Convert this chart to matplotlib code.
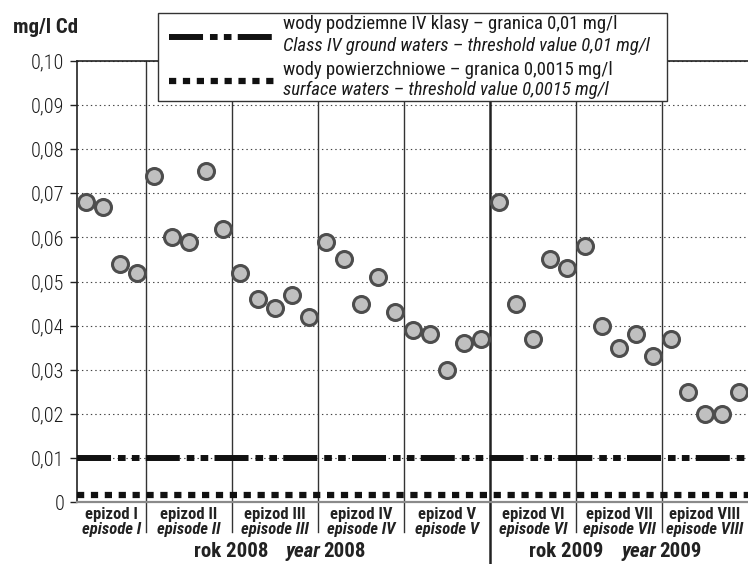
import numpy as np
import matplotlib.pyplot as plt
from matplotlib.lines import Line2D
from matplotlib.patches import Rectangle

plt.rcParams['font.family'] = ['Roboto Condensed', 'DejaVu Sans']
plt.rcParams['lines.scale_dashes'] = False

# data
episodes = ['I', 'II', 'III', 'IV', 'V', 'VI', 'VII', 'VIII']
episode_counts = [4, 5, 5, 5, 5, 5, 5, 5]
years = ['2008', '2009']
episodes_per_year = [5, 3]
cd_values = [0.068, 0.067, 0.054, 0.052,
             0.074, 0.060, 0.059, 0.075, 0.062,
             0.052, 0.046, 0.044, 0.047, 0.042,
             0.059, 0.055, 0.045, 0.051, 0.043,
             0.039, 0.038, 0.030, 0.036, 0.037,
             0.068, 0.045, 0.037, 0.055, 0.053,
             0.058, 0.040, 0.035, 0.038, 0.033,
             0.037, 0.025, 0.020, 0.020, 0.025]
ground_limit = 0.01
surface_limit = 0.0015
yticks = [0, 0.01, 0.02, 0.03, 0.04, 0.05, 0.06, 0.07, 0.08, 0.09, 0.10]
ytick_labels = ['0', '0,01', '0,02', '0,03', '0,04', '0,05',
                '0,06', '0,07', '0,08', '0,09', '0,10']
legend_labels = ['wody podziemne IV klasy \u2013 granica 0,01 mg/l',
                 'Class IV ground waters \u2013 threshold value 0,01 mg/l',
                 'wody powierzchniowe \u2013 granica 0,0015 mg/l',
                 'surface waters \u2013 threshold value 0,0015 mg/l']

W, H = 748, 564
def fx(px): return px / W
def fy(py): return 1 - py / H

ground_dash = (24.5, 5, 5.5, 4.5, 5.5, 4.5)
surface_dash = (5.2, 4.8)

fig = plt.figure(figsize=(W / 100, H / 100), dpi=100)
ax = fig.add_axes([fx(77), fy(502), fx(748) - fx(77), fy(61) - fy(502)])

n = len(cd_values)
x = np.arange(n)
ax.set_xlim(-0.5, n - 0.5)
ax.set_ylim(0, 0.10)

# grid
ax.set_yticks(yticks)
ax.set_yticklabels(ytick_labels, fontweight='light')
ax.yaxis.grid(True, linestyle=(0, (1, 2.2)), color='#444444', lw=0.8)
ax.set_axisbelow(True)
ax.tick_params(axis='y', length=5, width=1, color='#222222', pad=4,
               labelsize=14.5, labelcolor='#1a1a1a')
ax.tick_params(axis='x', bottom=False, labelbottom=False)
ax.spines['right'].set_visible(False)
ax.spines['top'].set_color('#222222')
ax.spines['top'].set_linewidth(1.2)
ax.spines['left'].set_color('#222222')
ax.spines['left'].set_linewidth(1.2)
ax.spines['bottom'].set_color('#8a8a8a')
ax.spines['bottom'].set_linewidth(1.6)

# threshold lines
ax.axhline(ground_limit, color='#111111', lw=4.3, dashes=ground_dash, zorder=3)
ax.axhline(surface_limit, color='#111111', lw=4.5, dashes=surface_dash, zorder=3)

# episode separators
bounds = np.cumsum(episode_counts)[:-1] - 0.5
year_bound = sum(episode_counts[:episodes_per_year[0]]) - 0.5
for b in bounds:
    if b == year_bound:
        ax.axvline(b, ymin=-0.141, ymax=1, color='#222222', lw=1.8,
                   clip_on=False, zorder=2)
    else:
        ax.axvline(b, ymin=-0.068, ymax=1, color='#333333', lw=1.0,
                   clip_on=False, zorder=2)

# points
ax.plot(x, cd_values, 'o', ms=11.5, mfc='#c0c0c0', mec='#4d4d4d', mew=2.2,
        zorder=4, clip_on=False)

# episode labels
tr = ax.get_xaxis_transform()
start = 0
for name, cnt in zip(episodes, episode_counts):
    c = start + (cnt - 1) / 2
    ax.text(c, -0.028, 'epizod ' + name, transform=tr, ha='center', va='center',
            fontsize=12, fontweight='bold', color='#222222')
    ax.text(c, -0.063, 'episode ' + name, transform=tr, ha='center', va='center',
            fontsize=12, fontweight='bold', style='italic', color='#222222')
    start += cnt

# year labels
start = -0.5
ep = 0
for yr, ne in zip(years, episodes_per_year):
    width = sum(episode_counts[ep:ep + ne])
    c = start + width / 2
    ax.annotate('rok ' + yr, xy=(c, -0.125), xycoords=tr, xytext=(-11, 0),
                textcoords='offset points', ha='right', va='baseline',
                fontsize=15, fontweight='bold', color='#222222', annotation_clip=False)
    t_year = ax.annotate('year', xy=(c, -0.125), xycoords=tr, xytext=(1.5, 0),
                         textcoords='offset points', ha='left', va='baseline',
                         fontsize=15, fontweight='bold', style='italic',
                         color='#222222', annotation_clip=False)
    ax.annotate(yr, xy=(1, 0), xycoords=t_year, xytext=(2, 0),
                textcoords='offset points', ha='left', va='bottom',
                fontsize=15, fontweight='bold', color='#222222')
    start += width
    ep += ne

# unit label
fig.text(fx(13), fy(33), 'mg/l Cd', fontsize=15, fontweight='bold',
         color='#222222', va='baseline')

# legend box drawn by hand
fig.add_artist(Rectangle((fx(158), fy(101)), fx(667) - fx(158), fy(13) - fy(101),
                         transform=fig.transFigure, facecolor='white',
                         edgecolor='#333333', lw=1.0, zorder=5))
fig.add_artist(Line2D([fx(169), fx(274)], [fy(37), fy(37)], color='#111111',
                      lw=4.3, dashes=ground_dash, zorder=6))
fig.add_artist(Line2D([fx(169), fx(274)], [fy(81), fy(81)], color='#111111',
                      lw=4.5, dashes=surface_dash, zorder=6))
for lab, yb, it in zip(legend_labels, [29, 51, 75, 95], [False, True, False, True]):
    fig.text(fx(283), fy(yb), lab, fontsize=13.5, style='italic' if it else 'normal',
             va='baseline', color='#1a1a1a', zorder=7)

fig.savefig('out.png', dpi=100)
